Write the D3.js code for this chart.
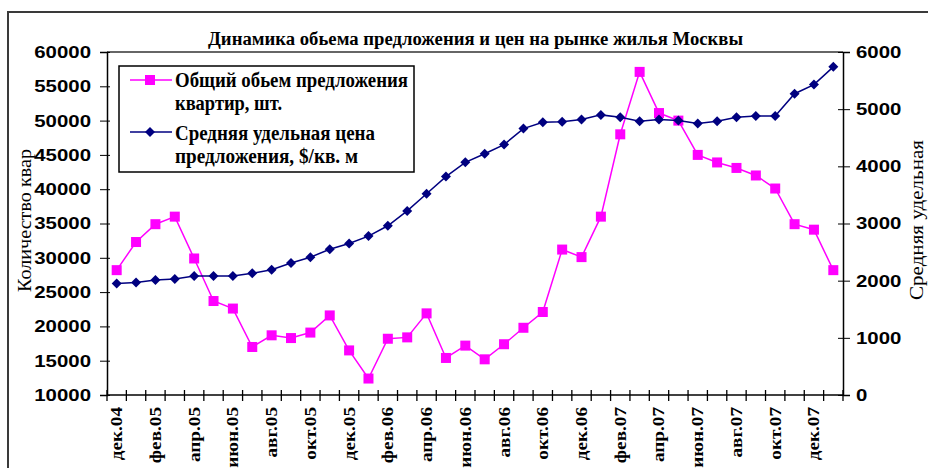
<!DOCTYPE html>
<html>
<head>
<meta charset="utf-8">
<script src="https://cdn.jsdelivr.net/npm/d3@7"></script>
<style>
  body { margin: 0; background: #fff; }
  svg { display: block; font-family: "Liberation Serif", "DejaVu Serif", serif; font-weight: bold; }
</style>
</head>
<body>
<svg id="chart"></svg>
<script>
// months, дек.04 .. янв.08
var months = ['дек.04','янв.05','фев.05','мар.05','апр.05','май.05','июн.05','июл.05','авг.05','сен.05',
    'окт.05','ноя.05','дек.05','янв.06','фев.06','мар.06','апр.06','май.06','июн.06','июл.06',
    'авг.06','сен.06','окт.06','ноя.06','дек.06','янв.07','фев.07','мар.07','апр.07','май.07',
    'июн.07','июл.07','авг.07','сен.07','окт.07','ноя.07','дек.07','янв.08'];

// общий объем предложения, квартир
var supply = [28200, 32300, 34900, 36000, 29900, 23700, 22600, 17000, 18700, 18300,
    19100, 21600, 16500, 12400, 18200, 18400, 21900, 15400, 17200, 15200,
    17400, 19800, 22100, 31200, 30100, 36000, 48000, 57100, 51100, 50000,
    45000, 43900, 43100, 42000, 40100, 34900, 34100, 28200];

// средняя удельная цена, $/кв. м
var price = [1950, 1970, 2010, 2030, 2080, 2080, 2080, 2130, 2190, 2310,
    2410, 2550, 2650, 2780, 2960, 3220, 3520, 3820, 4070, 4220,
    4380, 4660, 4770, 4780, 4820, 4900, 4860, 4790, 4820, 4800,
    4750, 4790, 4860, 4880, 4880, 5270, 5430, 5740];

var leftTicks = [10000, 15000, 20000, 25000, 30000, 35000, 40000, 45000, 50000, 55000, 60000];
var rightTicks = [0, 1000, 2000, 3000, 4000, 5000, 6000];

var seriesNames = ['Общий обьем предложения', 'квартир, шт.', 'Средняя удельная цена', 'предложения, $/кв. м'];
var title = 'Динамика обьема предложения и цен на рынке жилья Москвы';

var width = 928, height = 468;
var plot = {left: 107, right: 843, top: 52, bottom: 395};

// the original text is set wide, stretch each label a bit
function widen(sel, k) {
    sel.each(function() {
        var w = this.getComputedTextLength();
        d3.select(this)
            .attr('textLength', w * k)
            .attr('lengthAdjust', 'spacingAndGlyphs');
    });
}

var chart = d3.select('#chart')
    .attr('width', width)
    .attr('height', height);

chart.append('rect')
    .attr('width', width)
    .attr('height', height)
    .attr('fill', 'white');

// outer chart border (runs off the picture right and bottom)
chart.append('rect')
    .attr('x', 8).attr('y', 12)
    .attr('width', 1000).attr('height', 1000)
    .attr('fill', 'none')
    .attr('stroke', '#3a3a3a')
    .attr('stroke-width', 2);

var xs = d3.scaleBand().domain(months).range([plot.left, plot.right]);
var xc = d => xs(d) + xs.bandwidth() / 2;
var yl = d3.scaleLinear().domain([10000, 60000]).range([plot.bottom, plot.top]);
var yr = d3.scaleLinear().domain([0, 6000]).range([plot.bottom, plot.top]);

// plot top border
chart.append('line')
    .attr('x1', plot.left).attr('x2', plot.right)
    .attr('y1', plot.top).attr('y2', plot.top)
    .attr('stroke', '#333').attr('stroke-width', 1.5);

// left axis
var gl = chart.append('g')
    .attr('transform', 'translate(' + plot.left + ',0)')
    .call(d3.axisLeft(yl).tickValues(leftTicks).tickSize(7).tickPadding(9).tickFormat(d3.format('d')));
gl.selectAll('.tick line').attr('x1', 3);
gl.selectAll('text').style('font-size', '17px').attr('fill', '#000').call(widen, 1.2);

// right axis
var gr = chart.append('g')
    .attr('transform', 'translate(' + plot.right + ',0)')
    .call(d3.axisRight(yr).tickValues(rightTicks).tickSize(7).tickPadding(6).tickFormat(d3.format('d')));
gr.selectAll('.tick line').attr('x1', -5);
gr.selectAll('text').style('font-size', '17px').attr('fill', '#000').call(widen, 1.2);

// bottom axis, ticks between categories
var gb = chart.append('g')
    .attr('transform', 'translate(0,' + plot.bottom + ')');
gb.append('line')
    .attr('x1', plot.left).attr('x2', plot.right)
    .attr('stroke', '#000').attr('stroke-width', 1.5);
gb.selectAll('.xtick')
    .data(months.concat(['end']))
    .enter()
    .append('line')
        .attr('x1', (d, i) => i < months.length ? xs(d) : plot.right)
        .attr('x2', (d, i) => i < months.length ? xs(d) : plot.right)
        .attr('y1', -5).attr('y2', 6)
        .attr('stroke', '#000').attr('stroke-width', 1.3);
gb.selectAll('.xlabel')
    .data(months.filter((d, i) => i % 2 == 0))
    .enter()
    .append('text')
        .attr('transform', d => 'translate(' + xc(d) + ',12) rotate(-90)')
        .attr('text-anchor', 'end')
        .attr('dy', '0.34em')
        .style('font-size', '16px')
        .text(d => d)
        .call(widen, 1.2);

gl.select('.domain').attr('stroke-width', 1.5);
gr.select('.domain').attr('stroke-width', 1.5);

// supply line (magenta squares)
chart.append('path')
    .datum(supply)
    .attr('fill', 'none')
    .attr('stroke', '#ff00ff')
    .attr('stroke-width', 1.5)
    .attr('d', d3.line().x((d, i) => xc(months[i])).y(d => yl(d)));
chart.append('g').selectAll('rect')
    .data(supply)
    .enter()
    .append('rect')
        .attr('x', (d, i) => xc(months[i]) - 5)
        .attr('y', d => yl(d) - 5)
        .attr('width', 10).attr('height', 10)
        .attr('fill', '#ff00ff');

// price line (navy diamonds)
var diamond = 'M0,-5L5,0L0,5L-5,0Z';
chart.append('path')
    .datum(price)
    .attr('fill', 'none')
    .attr('stroke', '#000080')
    .attr('stroke-width', 1.5)
    .attr('d', d3.line().x((d, i) => xc(months[i])).y(d => yr(d)));
chart.append('g').selectAll('path')
    .data(price)
    .enter()
    .append('path')
        .attr('transform', (d, i) => 'translate(' + xc(months[i]) + ',' + yr(d) + ')')
        .attr('d', diamond)
        .attr('fill', '#000080');

// title
chart.append('text')
    .attr('x', 475.5).attr('y', 45)
    .attr('text-anchor', 'middle')
    .attr('textLength', 535)
    .attr('lengthAdjust', 'spacingAndGlyphs')
    .style('font-size', '18px')
    .text(title);

// axis titles (cut short like in the original)
chart.append('text')
    .attr('transform', 'translate(31,292) rotate(-90)')
    .attr('textLength', 143)
    .attr('lengthAdjust', 'spacingAndGlyphs')
    .style('font-size', '19px')
    .style('font-weight', 'normal')
    .text('Количество квар');
chart.append('text')
    .attr('transform', 'translate(923,300) rotate(-90)')
    .attr('textLength', 160)
    .attr('lengthAdjust', 'spacingAndGlyphs')
    .style('font-size', '19px')
    .style('font-weight', 'normal')
    .text('Средняя удельная');

// legend
var legend = chart.append('g');
legend.append('rect')
    .attr('x', 119).attr('y', 66)
    .attr('width', 295).attr('height', 106)
    .attr('fill', 'white')
    .attr('stroke', '#000')
    .attr('stroke-width', 1.5);
legend.append('line')
    .attr('x1', 130).attr('x2', 172).attr('y1', 80).attr('y2', 80)
    .attr('stroke', '#ff00ff').attr('stroke-width', 1.5);
legend.append('rect')
    .attr('x', 145).attr('y', 75).attr('width', 10).attr('height', 10)
    .attr('fill', '#ff00ff');
legend.append('line')
    .attr('x1', 130).attr('x2', 172).attr('y1', 132).attr('y2', 132)
    .attr('stroke', '#000080').attr('stroke-width', 1.5);
legend.append('path')
    .attr('transform', 'translate(150,132)')
    .attr('d', diamond)
    .attr('fill', '#000080');

var legendRows = [
    {y: 87, len: 233},
    {y: 110, len: 107},
    {y: 140, len: 200},
    {y: 163, len: 183}
];
legend.selectAll('.ltext')
    .data(seriesNames)
    .enter()
    .append('text')
        .attr('x', 175)
        .attr('y', (d, i) => legendRows[i].y)
        .attr('textLength', (d, i) => legendRows[i].len)
        .attr('lengthAdjust', 'spacingAndGlyphs')
        .style('font-size', '20px')
        .text(d => d);
</script>
</body>
</html>
